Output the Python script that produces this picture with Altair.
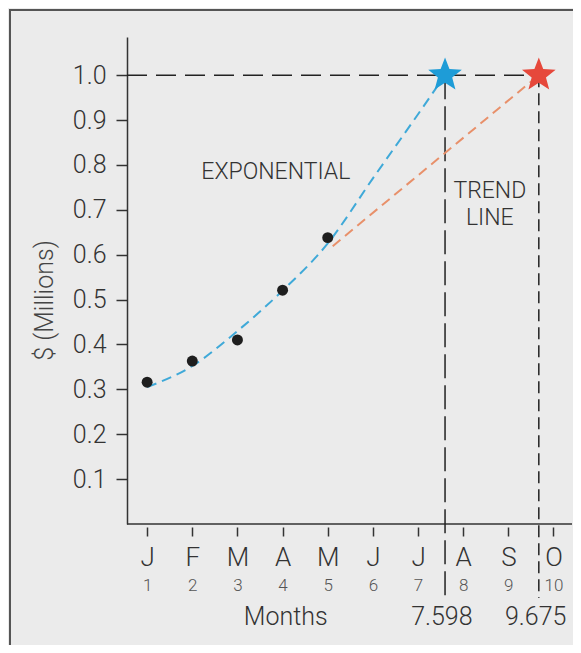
import altair as alt
import pandas as pd

# ---- data ----
month_num = [1, 2, 3, 4, 5, 6, 7, 8, 9, 10]
month_letters = ["J", "F", "M", "A", "M", "J", "J", "A", "S", "O"]

obs_month = [1, 2, 3, 4, 5]
obs_value = [0.316, 0.363, 0.410, 0.521, 0.638]

exp_month = [1, 2, 3, 4, 5, 6, 7, 7.598]
exp_value = [0.305, 0.352, 0.430, 0.520, 0.625, 0.770, 0.913, 1.0]

trend_month = [5.11, 9.675]
trend_value = [0.619, 1.0]

target_value = 1.0
exp_hit = 7.598
trend_hit = 9.675

y_ticks = [0.1, 0.2, 0.3, 0.4, 0.5, 0.6, 0.7, 0.8, 0.9, 1.0]

# ---- styling ----
FONT = "Roboto, Liberation Sans Narrow, sans-serif"
FW = 300
TXT = "#333333"
BG = "#ebebeb"
W, H = 445, 487
XD = [0.554, 10.41]
YD = [0.0, 1.085]

x_scale = alt.Scale(domain=XD, nice=False, zero=False)
y_scale = alt.Scale(domain=YD, nice=False, zero=False)

y_axis = alt.Axis(
    values=y_ticks, format=".1f", title="$ (Millions)", grid=False,
    labelFont=FONT, labelFontSize=25, labelFontWeight=FW, labelColor=TXT, labelPadding=10,
    tickSize=11, tickColor=TXT, tickWidth=1.5,
    domainColor=TXT, domainWidth=1.5,
    titleFont=FONT, titleFontSize=25, titleFontWeight=FW, titleColor="#444444",
    titleAngle=270, titleX=-83, titleY=263, titleAlign="center", titleBaseline="middle",
)
Y_ENC = alt.Y("v:Q", scale=y_scale, axis=y_axis)

letter_expr = "[" + ",".join("'%s'" % s for s in month_letters) + "][datum.value - 1]"
letter_axis = alt.Axis(
    values=month_num, labelExpr=letter_expr, title=None, grid=False, domain=False,
    offset=3, tickSize=9, tickColor=TXT, tickWidth=1.5,
    labelFont=FONT, labelFontSize=26, labelFontWeight=FW, labelColor=TXT, labelPadding=8,
    orient="bottom",
)
number_axis = alt.Axis(
    values=month_num, format="d", title=None, grid=False, domain=False,
    ticks=False, tickSize=0, labelPadding=53,
    labelFont=FONT, labelFontSize=17, labelFontWeight=FW, labelColor="#555555",
    orient="bottom",
)

obs_df = pd.DataFrame({"m": obs_month, "v": obs_value})
exp_df = pd.DataFrame({"m": exp_month, "v": exp_value})
trend_df = pd.DataFrame({"m": trend_month, "v": trend_value})

# outer frame (decoration)
frame = alt.Chart(alt.Data(values=[{}])).mark_rect(
    filled=False, stroke="#555555", strokeWidth=2
).encode(x=alt.value(-117), x2=alt.value(700), y=alt.value(-27), y2=alt.value(800))

# x-axis baseline
baseline = alt.Chart(pd.DataFrame({"m": [XD[0]], "m2": [XD[1]], "v": [0.0]})).mark_rule(
    color=TXT, strokeWidth=1.5
).encode(
    x=alt.X("m:Q", scale=x_scale, axis=None), x2="m2:Q", y=Y_ENC
)

# horizontal dashed target line
hline = alt.Chart(pd.DataFrame({"m": [XD[0]], "m2": [trend_hit], "v": [target_value]})).mark_rule(
    color="#222222", strokeWidth=1.5, strokeDash=[20, 9]
).encode(x=alt.X("m:Q", scale=x_scale, axis=None), x2="m2:Q", y=Y_ENC)

vline1 = alt.Chart(pd.DataFrame({"m": [exp_hit], "v": [target_value]})).mark_rule(
    color="#222222", strokeWidth=1.5, strokeDash=[24, 7]
).encode(x=alt.X("m:Q", scale=x_scale, axis=None), y=Y_ENC, y2=alt.value(561))

vline2 = alt.Chart(pd.DataFrame({"m": [trend_hit], "v": [target_value]})).mark_rule(
    color="#222222", strokeWidth=1.5, strokeDash=[12, 6]
).encode(x=alt.X("m:Q", scale=x_scale, axis=None), y=Y_ENC, y2=alt.value(561))

exp_line = alt.Chart(exp_df).mark_line(
    color="#3fa9d8", strokeWidth=2, strokeDash=[10, 6], interpolate="monotone"
).encode(x=alt.X("m:Q", scale=x_scale, axis=number_axis), y=Y_ENC)

trend_line = alt.Chart(trend_df).mark_line(
    color="#e8906a", strokeWidth=2, strokeDash=[10, 6]
).encode(x=alt.X("m:Q", scale=x_scale, axis=None), y=Y_ENC)

points = alt.Chart(obs_df).mark_point(
    filled=True, color="#1e1e1e", size=120, opacity=1
).encode(x=alt.X("m:Q", scale=x_scale, axis=letter_axis), y=Y_ENC)

STAR = ("M0,-1 L0.25,-0.344 L0.951,-0.309 L0.405,0.132 L0.588,0.809 L0,0.425 "
        "L-0.588,0.809 L-0.405,0.132 L-0.951,-0.309 L-0.25,-0.344 Z")
star_df = pd.DataFrame({"m": [exp_hit, trend_hit], "v": [target_value, target_value],
                        "c": ["#1e9cd7", "#e6483b"]})
stars = alt.Chart(star_df).mark_point(
    shape=STAR, filled=True, size=1250, opacity=1
).encode(x=alt.X("m:Q", scale=x_scale, axis=None), y=Y_ENC,
         color=alt.Color("c:N", scale=None))

inner_text_df = pd.DataFrame({
    "m": [3.85, 8.59, 8.59],
    "v": [0.784, 0.741, 0.682],
    "t": ["EXPONENTIAL", "TREND", "LINE"],
})
inner_text = alt.Chart(inner_text_df).mark_text(
    font=FONT, fontSize=23, fontWeight=FW, color=TXT, align="center", baseline="middle"
).encode(x=alt.X("m:Q", scale=x_scale, axis=None), y=Y_ENC, text="t:N")

bottom_df = pd.DataFrame({
    "m": [4.07, exp_hit - 0.07, trend_hit - 0.07],
    "t": ["Months", "%.3f" % exp_hit, "%.3f" % trend_hit],
})
bottom_text = alt.Chart(bottom_df).mark_text(
    font=FONT, fontSize=25, fontWeight=FW, color=TXT, align="center", baseline="middle"
).encode(x=alt.X("m:Q", scale=x_scale, axis=None), y=alt.value(580), text="t:N")

chart = alt.layer(
    frame, baseline, hline, vline1, vline2, exp_line, trend_line, points, stars,
    inner_text, bottom_text
).resolve_axis(x="independent").properties(
    width=W, height=H,
    padding={"left": 119, "top": 29, "right": 1, "bottom": 121},
    autosize=alt.AutoSizeParams(type="none"),
    background=BG,
).configure_view(stroke=None)

chart.save("out.html", embed_options={"renderer": "svg", "actions": False})
